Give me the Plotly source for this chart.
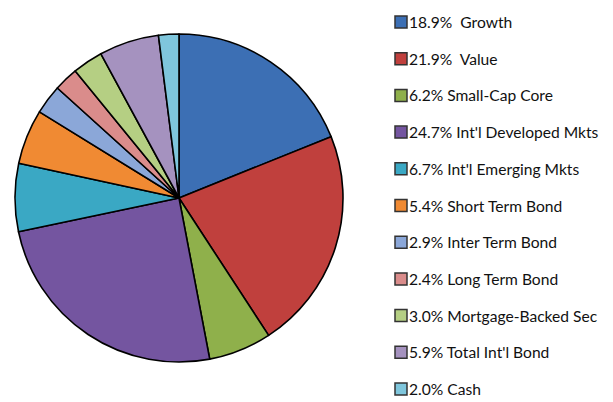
import plotly.graph_objects as go

# Portfolio allocation (percent of total)
labels = [
    "Growth", "Value", "Small-Cap Core", "Int'l Developed Mkts",
    "Int'l Emerging Mkts", "Short Term Bond", "Inter Term Bond",
    "Long Term Bond", "Mortgage-Backed Sec", "Total Int'l Bond", "Cash",
]
shares = [18.9, 21.9, 6.2, 24.7, 6.7, 5.4, 2.9, 2.4, 3.0, 5.9, 2.0]
legend_text = [
    "18.9%\u00a0\u00a0Growth", "21.9%\u00a0\u00a0Value", "6.2% Small-Cap Core",
    "24.7% Int'l Developed Mkts", "6.7% Int'l Emerging Mkts",
    "5.4% Short Term Bond", "2.9% Inter Term Bond", "2.4% Long Term Bond",
    "3.0% Mortgage-Backed Sec", "5.9% Total Int'l Bond", "2.0% Cash",
]
colors = [
    "#3c6fb4", "#c0403d", "#8fb04b", "#7455a0", "#3aa8c4", "#f08a33",
    "#8ba7d8", "#da8c8b", "#b5cf83", "#a592bf", "#7fc6dc",
]

W, H = 613, 402

fig = go.Figure()
fig.add_trace(go.Pie(
    labels=labels,
    values=shares,
    sort=False,
    direction="clockwise",
    rotation=0,
    marker=dict(colors=colors, line=dict(color="#000000", width=1.6)),
    textinfo="none",
    hoverinfo="label+percent",
    showlegend=False,
    domain=dict(x=[15 / W, 343 / W], y=[1 - 363 / H, 1 - 33 / H]),
))

# Hand-placed legend on the right
row0, row_step = 22, 36.7
icon_x0, icon_size = 395, 12
shapes, annotations = [], []
for i, (txt, col) in enumerate(zip(legend_text, colors)):
    yc = row0 + i * row_step
    shapes.append(dict(
        type="rect", xref="paper", yref="paper",
        x0=icon_x0 / W, x1=(icon_x0 + icon_size) / W,
        y0=1 - (yc + icon_size / 2) / H, y1=1 - (yc - icon_size / 2) / H,
        fillcolor=col, line=dict(color="#333333", width=1.5),
    ))
    annotations.append(dict(
        xref="paper", yref="paper",
        x=(icon_x0 + icon_size) / W, y=1 - yc / H,
        xanchor="left", yanchor="middle", showarrow=False,
        text=txt, font=dict(family="Lato", size=15.6, color="#111111"),
    ))

fig.update_layout(
    width=W, height=H,
    margin=dict(l=0, r=0, t=0, b=0),
    paper_bgcolor="white",
    plot_bgcolor="white",
    shapes=shapes,
    annotations=annotations,
)

fig.write_html("out.html")
